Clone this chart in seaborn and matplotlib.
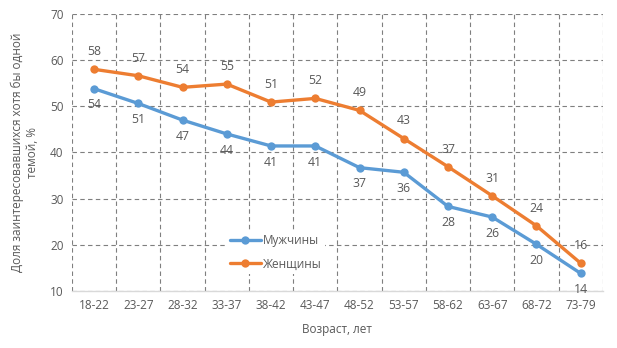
import matplotlib
matplotlib.use("Agg")
import matplotlib.pyplot as plt
import seaborn as sns
import pandas as pd
import numpy as np

ages = ["18-22", "23-27", "28-32", "33-37", "38-42", "43-47", "48-52",
        "53-57", "58-62", "63-67", "68-72", "73-79"]
men = [53.8, 50.6, 47.0, 44.0, 41.4, 41.4, 36.7, 35.7, 28.3, 26.0, 20.1, 13.8]
women = [58.0, 56.6, 54.1, 54.8, 50.9, 51.7, 49.1, 43.0, 36.9, 30.6, 24.1, 16.0]
series_names = ["Мужчины", "Женщины"]
colors = ["#5B9BD5", "#ED7D31"]

sns.set_style("white")
plt.rcParams['font.family'] = ['Open Sans', 'DejaVu Sans']
txt = "#595959"

df = pd.DataFrame({
    "age": ages * 2,
    "value": men + women,
    "series": [series_names[0]] * len(ages) + [series_names[1]] * len(ages),
})

fig = plt.figure(figsize=(6.17, 3.48), dpi=100)
ax = fig.add_axes([0.1167, 0.164, 0.8603, 0.796])

sns.lineplot(data=df, x="age", y="value", hue="series", palette=colors,
             marker="o", markersize=6, markeredgewidth=0, linewidth=2.4,
             ax=ax, sort=False)

n = len(ages)
ax.set_xlim(-0.5, n - 0.5)
ax.set_ylim(10, 70)
ax.set_yticks(range(10, 71, 10))
ax.set_xticks(range(n))
ax.set_xticklabels(ages)
ax.set_xticks(np.arange(-0.5, n, 1.0), minor=True)
ax.tick_params(axis='both', which='both', length=0, labelsize=8.5, colors=txt, pad=6)

ax.grid(False)
ax.xaxis.grid(True, which='minor', linestyle=(0, (4, 3)), color='#7f7f7f', linewidth=0.8)
ax.yaxis.grid(True, which='major', linestyle=(0, (4, 3)), color='#7f7f7f', linewidth=0.8)
ax.set_axisbelow(True)
for s in ["top", "right", "left"]:
    ax.spines[s].set_visible(False)
ax.spines["bottom"].set_color("#d9d9d9")
ax.spines["bottom"].set_linewidth(1)

for i, (m, w) in enumerate(zip(men, women)):
    ax.annotate(f"{round(w)}", (i, w), xytext=(0, 8), textcoords="offset points",
                ha="center", va="bottom", fontsize=8.8, color=txt)
    ax.annotate(f"{round(m)}", (i, m), xytext=(0, -7), textcoords="offset points",
                ha="center", va="top", fontsize=8.8, color=txt)

ax.set_xlabel("Возраст, лет", fontsize=8.5, color=txt, labelpad=8)
ax.set_ylabel("Доля заинтересовавшихся хотя бы одной\nтемой, %", fontsize=8.5,
              color=txt, labelpad=8)

leg = ax.legend(loc="center left", bbox_to_anchor=(0.28, 0.14), frameon=True,
                fontsize=8.5, handlelength=2.6, handletextpad=0.2,
                labelspacing=0.9, borderpad=0.3)
leg.get_frame().set_facecolor("white")
leg.get_frame().set_edgecolor("none")
leg.get_frame().set_alpha(1)
for t in leg.get_texts():
    t.set_color(txt)

fig.savefig("out.png", dpi=100)
